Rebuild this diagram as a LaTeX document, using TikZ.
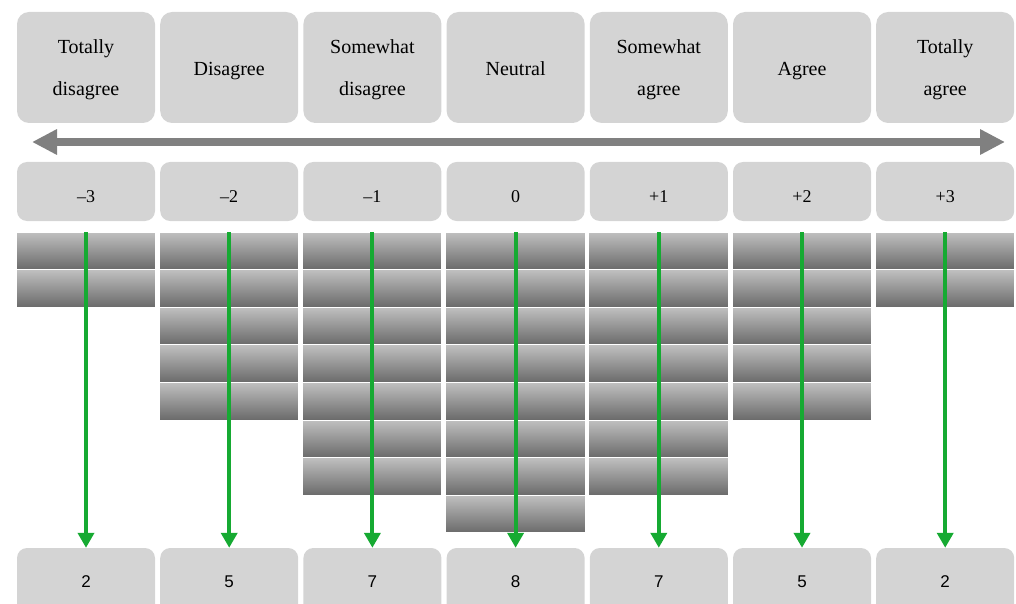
\documentclass[tikz,border=0pt]{standalone}
\usepackage{fontspec}
\setmainfont{Liberation Serif}
\newfontfamily\numfont{Liberation Sans}
\usetikzlibrary{arrows.meta}
\definecolor{boxgray}{RGB}{212,212,212}
\definecolor{arrowgray}{RGB}{128,128,128}
\definecolor{arrowgreen}{RGB}{22,170,50}
\definecolor{bartop}{RGB}{192,192,192}
\definecolor{barmid}{RGB}{168,168,168}
\definecolor{barbot}{RGB}{106,106,106}
\newcommand\mystrut{\vrule height 15pt depth 5pt width 0pt}
\begin{document}
\begin{tikzpicture}[x=1pt,y=-1pt,
  headbox/.style={fill=boxgray, rounded corners=12pt, minimum width=138pt, minimum height=111pt,
    inner sep=0pt},
  headtext/.style={align=center, inner sep=0pt, yshift=-3pt, font=\fontsize{20}{42}\selectfont,
    execute at begin node=\mystrut, execute at end node=\mystrut},
  valbox/.style={fill=boxgray, rounded corners=10pt, minimum width=138pt, minimum height=59pt,
    inner sep=0pt, text height=22pt, text depth=0pt, font=\fontsize{18}{20}\selectfont},
  cntbox/.style={fill=boxgray, rounded corners=10pt, minimum width=138pt, minimum height=68pt,
    inner sep=0pt, font=\numfont\fontsize{17}{20}\selectfont},
  barcell/.style={draw=white, line width=1pt, top color=bartop, middle color=barmid, bottom color=barbot},
  scalearrow/.style={draw=arrowgray, line width=8pt, {Triangle[width=24pt,length=25pt]}-{Triangle[width=24pt,length=25pt]}},
  countarrow/.style={draw=arrowgreen, line width=4pt, -{Triangle[width=16pt,length=15pt]}}
]
\useasboundingbox (0,0) rectangle (1016,604);

% header boxes
\foreach \t [count=\i from 0] in {{Totally\\disagree},Disagree,{Somewhat\\disagree},Neutral,{Somewhat\\agree},Agree,{Totally\\agree}}
  \node[headbox, label={[headtext, name=ht\i]center:\t}] (h\i) at ({86+143.2*\i},67.5) {};

% scale arrow
\coordinate (aL) at (32,142);
\coordinate (aR) at (1005,142);
\draw[scalearrow] (aL) -- (aR);

% value boxes
\foreach \t [count=\i from 0] in {\textendash3,\textendash2,\textendash1,0,+1,+2,+3}
  \node[valbox] (v\i) at ({86+143.2*\i},191.5) {\t};

% bars
\foreach \n [count=\i from 0] in {2,5,7,8,7,5,2}
  \foreach \k in {1,...,\n}
    \path[barcell] ({16+143.2*\i},{232+37.6*(\k-1)}) rectangle ++(139.5,37.6);

% count boxes
\foreach \t [count=\i from 0] in {2,5,7,8,7,5,2}
  \node[cntbox] (c\i) at ({86+143.2*\i},582) {\t};

% green arrows
\foreach \i in {0,...,6} {
  \coordinate (s\i) at ({86+143.2*\i},232);
  \draw[countarrow] (s\i) -- (c\i.north);
}
\end{tikzpicture}
\end{document}
